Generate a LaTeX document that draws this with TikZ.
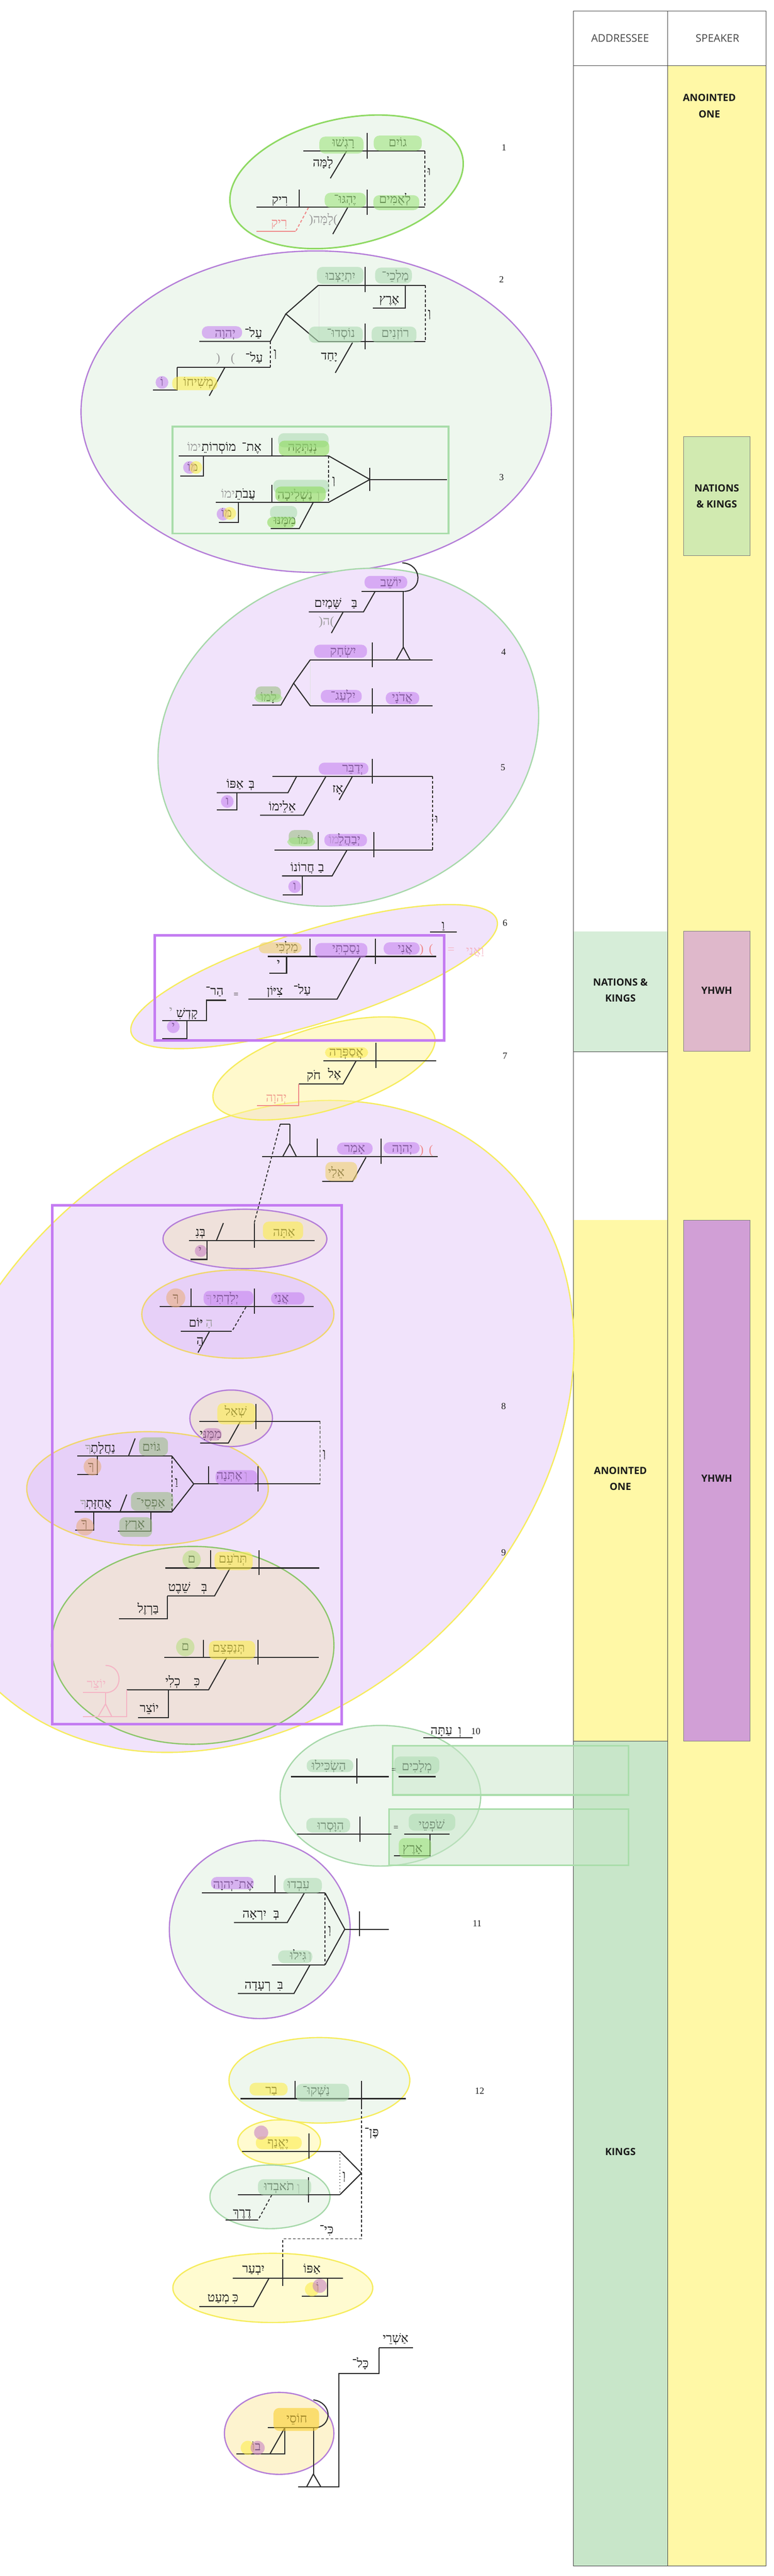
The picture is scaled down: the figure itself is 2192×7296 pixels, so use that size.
\documentclass[tikz,border=0pt]{standalone}
\usepackage{fontspec}
\TeXXeTstate=1
\newfontfamily\hebfont[Script=Hebrew]{Liberation Serif}
\newfontfamily\numfont{Liberation Serif}
\newfontfamily\osans{Open Sans}
\newcommand{\hb}[1]{\beginR#1\endR}
\newcommand{\hf}{\hebfont\fontsize{10pt}{12pt}\selectfont}
\definecolor{lc}{HTML}{2A2A2A}
\definecolor{tl}{HTML}{444444}
\definecolor{tx}{HTML}{1A1A1A}
\definecolor{gr}{HTML}{9A9A9A}
\definecolor{redl}{HTML}{F08A8A}
\definecolor{pinkl}{HTML}{F4B5C5}
\definecolor{sall}{HTML}{F0A090}
\definecolor{cyel}{HTML}{FFF8A6}
\definecolor{cnk}{HTML}{D6EDD8}
\definecolor{ckg}{HTML}{C8E6C9}
\definecolor{cnks}{HTML}{D1EAB0}
\definecolor{cyh1}{HTML}{DFB8CB}
\definecolor{cyh2}{HTML}{D19FD6}
\definecolor{gS}{HTML}{8ED962}
\definecolor{gS2}{HTML}{8CC66A}
\definecolor{pS}{HTML}{B47DD8}
\definecolor{lgS}{HTML}{A6D8A9}
\definecolor{yS}{HTML}{F6EC5C}
\definecolor{goS}{HTML}{F0D66C}
\definecolor{fG}{HTML}{EEF7EE}
\definecolor{fP}{HTML}{F1E3FB}
\definecolor{fP2}{HTML}{E7D0F8}
\definecolor{fT}{HTML}{EFE1DB}
\definecolor{fY}{HTML}{FFFBD0}
\definecolor{fY2}{HTML}{FDF3CF}
\definecolor{fYt}{HTML}{FFF59A}
\definecolor{pG}{HTML}{9EE37D}
\definecolor{pLG}{HTML}{B0DCB4}
\definecolor{pBG}{HTML}{8FDB5E}
\definecolor{pP}{HTML}{C784F0}
\definecolor{pY}{HTML}{FDED4E}
\definecolor{pT}{HTML}{F0D26E}
\definecolor{pGG}{HTML}{9CBF85}
\definecolor{pPk}{HTML}{C884C4}
\definecolor{pSal}{HTML}{EAAF80}
\definecolor{pGold}{HTML}{FACF30}
\definecolor{pGc}{HTML}{BADF85}
\definecolor{rectP}{HTML}{C47CF2}
\definecolor{rectG}{HTML}{A9DDAA}
\begin{document}
\begin{tikzpicture}[x=0.01cm,y=-0.01cm,
  ln/.style={draw=lc, line width=0.85pt},
  dln/.style={draw=lc, line width=0.75pt, dash pattern=on 2.2pt off 1.6pt},
  rln/.style={draw=redl, line width=0.85pt},
  pln/.style={draw=pinkl, line width=0.85pt},
  fln/.style={draw=black!12, line width=0.5pt},
  hw/.style={font=\hf, inner sep=0pt, anchor=base, yshift=-0.1cm, text=tx},
  hg/.style={hw, text=gr},
  hr/.style={hw, text=redl},
  hpk/.style={hw, text=pinkl},
  hsal/.style={hw, text=sall},
  heq/.style={hw, font=\numfont\fontsize{7pt}{8pt}\selectfont},
  vn/.style={font=\numfont\fontsize{7.5pt}{9pt}\selectfont, inner sep=0pt, text=tx},
  hdr/.style={font=\osans\fontsize{8.5pt}{10pt}\selectfont, text=tl, inner sep=0pt},
  lab/.style={font=\osans\bfseries\fontsize{8pt}{13pt}\selectfont, align=center, text=tx, inner sep=0pt},
  ell/.style={line width=1pt},
  pill/.style={fill opacity=0.6, rounded corners=0.16cm},
  dot/.style={fill opacity=0.6}]
\useasboundingbox (0,0) rectangle (2192,7296);
\fill[white] (0,0) rectangle (2192,7296);
% ---------------- table
\fill[cyel] (1892,186) rectangle (2171,7268);
\fill[cnk] (1625,2638) rectangle (1892,2978);
\fill[cyel] (1625,3456) rectangle (1892,4931);
\fill[ckg] (1625,4931) rectangle (1892,7268);
\filldraw[fill=cnks, draw=tl!70, line width=0.4pt] (1937,1237) rectangle (2125,1573);
\filldraw[fill=cyh1, draw=tl!70, line width=0.4pt] (1937,2638) rectangle (2125,2978);
\filldraw[fill=cyh2, draw=tl!70, line width=0.4pt] (1937,3456) rectangle (2125,4931);
\draw[tl, line width=0.5pt] (1625,31) rectangle (2171,7268);
\draw[tl, line width=0.5pt] (1892,31) -- (1892,7268);
\draw[tl, line width=0.5pt] (1625,186) -- (2171,186);
\draw[tl, line width=0.3pt] (1625,2978) -- (1892,2978);
\draw[tl, line width=0.4pt] (1625,4931) -- (1892,4931);
\node[hdr] (hA) at (1757,108) {ADDRESSEE};
\node[hdr] (hS) at (2033,108) {SPEAKER};
\node[lab] (l1) at (2010,300) {ANOINTED\\ONE};
\node[lab] (l2) at (2031,1405) {NATIONS\\\& KINGS};
\node[lab] (l3) at (1758,2805) {NATIONS \&\\KINGS};
\node[lab] (l4) at (2031,2805) {YHWH};
\node[lab] (l5) at (1758,4188) {ANOINTED\\ONE};
\node[lab] (l6) at (2031,4188) {YHWH};
\node[lab] (l7) at (1758,6095) {KINGS};
% ---------------- ellipses
\filldraw[ell, fill=fG, draw=gS, line width=1.2pt, rotate around={12.4:(982,515)}] (982,515) ellipse [x radius=3.36cm, y radius=1.79cm];
\filldraw[ell, fill=fG, draw=pS] (896,1166) ellipse [x radius=6.66cm, y radius=4.55cm];
\filldraw[ell, fill=fP, draw=lgS, rotate around={23.4:(987,2088)}] (987,2088) ellipse [x radius=5.52cm, y radius=4.63cm];
\filldraw[ell, fill=fP, draw=yS, rotate around={17.2:(890,2766)}] (890,2766) ellipse [x radius=5.42cm, y radius=1.32cm];
\filldraw[ell, fill=fP, draw=yS, rotate around={45.1:(704,4040)}] (704,4040) ellipse [x radius=10.31cm, y radius=7.99cm];
\fill[fYt, fill opacity=0.5, rotate around={16.4:(918,3026)}] (918,3026) ellipse [x radius=3.26cm, y radius=1.18cm];
\draw[ell, draw=yS, rotate around={16.4:(918,3026)}] (918,3026) ellipse [x radius=3.26cm, y radius=1.18cm];
\filldraw[ell, fill=fT, draw=pS] (694,3509) ellipse [x radius=2.32cm, y radius=0.84cm];
\filldraw[ell, fill=fP2, draw=goS] (674,3722) ellipse [x radius=2.72cm, y radius=1.25cm];
\filldraw[ell, fill=fP2, draw=goS] (418,4216) ellipse [x radius=3.42cm, y radius=1.61cm];
\filldraw[ell, fill=fT, draw=pS] (655,4017) ellipse [x radius=1.17cm, y radius=0.80cm];
\filldraw[ell, fill=fT, draw=gS2] (546,4660) ellipse [x radius=4.00cm, y radius=2.80cm];
\filldraw[ell, fill=fG, draw=lgS] (1078,5086) ellipse [x radius=2.84cm, y radius=1.99cm];
\filldraw[ell, fill=fG, draw=pS] (736,5465) ellipse [x radius=2.56cm, y radius=2.52cm];
\filldraw[ell, fill=fG, draw=yS] (905,5892) ellipse [x radius=2.56cm, y radius=1.21cm];
\filldraw[ell, fill=fY, draw=yS] (791,6067) ellipse [x radius=1.17cm, y radius=0.63cm];
\filldraw[ell, fill=fG, draw=lgS] (765,6222) ellipse [x radius=1.70cm, y radius=0.90cm];
\filldraw[ell, fill=fY, draw=yS] (773,6480) ellipse [x radius=2.83cm, y radius=0.98cm];
\filldraw[ell, fill=fY2, draw=pS] (791,6892) ellipse [x radius=1.55cm, y radius=1.16cm];
% ---------------- rectangles
\draw[rectG, line width=1.4pt] (489,1208) rectangle (1271,1511);
\draw[rectP, line width=2pt] (438,2649) rectangle (1258,2947);
\draw[rectP, line width=2pt] (148,3414) rectangle (968,4883);
\filldraw[fill=ckg, fill opacity=0.5, draw=rectG, line width=1.4pt] (1113,4944) rectangle (1781,5084);
\filldraw[fill=ckg, fill opacity=0.5, draw=rectG, line width=1.4pt] (1102,5124) rectangle (1781,5283);
% ---------------- lines v1
\draw[ln] (860,428) -- (1204,428);
\draw[ln] (1040,377) -- (1040,449);
\draw[ln] (982,428) -- (936,505);
\draw[dln] (1204,428) -- (1204,587);
\draw[ln] (726,587) -- (1204,587);
\draw[ln] (1041,537) -- (1041,608);
\draw[ln] (848,537) -- (848,587);
\draw[ln] (985,588) -- (943,663);
\draw[rln, dash pattern=on 2.2pt off 1.6pt] (874,588) -- (838,655);
\draw[rln] (838,655) -- (726,655);
% v2
\draw[fln] (904,808) -- (904,967);
\draw[ln] (902,808) -- (1205,808);
\draw[ln] (1035,756) -- (1035,828);
\draw[ln] (1149,808) -- (1149,872) -- (1056,872);
\draw[dln] (1205,808) -- (1205,967);
\draw[ln] (902,967) -- (1205,967);
\draw[ln] (1035,917) -- (1035,990);
\draw[ln] (999,970) -- (950,1056);
\draw[ln] (902,808) -- (810,889) -- (902,967);
\draw[ln] (810,889) -- (766,967) -- (565,967);
\draw[dln] (766,967) -- (766,1041);
\draw[ln] (502,1041) -- (766,1041);
\draw[ln] (637,1041) -- (593,1121);
\draw[ln] (502,1041) -- (502,1105) -- (434,1105);
% v3
\draw[ln] (506,1291) -- (931,1291);
\draw[ln] (770,1241) -- (770,1291);
\draw[ln] (931,1291) -- (1048,1358) -- (931,1423);
\draw[ln] (1048,1358) -- (1266,1358);
\draw[ln] (1048,1325) -- (1048,1391);
\draw[ln] (577,1291) -- (577,1348) -- (510,1348);
\draw[dln] (931,1291) -- (931,1423);
\draw[ln] (612,1423) -- (931,1423);
\draw[ln] (771,1373) -- (771,1423);
\draw[ln] (676,1423) -- (676,1479) -- (620,1479);
\draw[ln] (887,1424) -- (848,1497) -- (767,1497);
% v4
\draw[ln] (1140,1594) .. controls (1198,1598) and (1198,1673) .. (1146,1675);
\draw[ln] (1025,1675) -- (1146,1675);
\draw[ln] (1063,1675) -- (1030,1733) -- (875,1733);
\draw[ln] (972,1734) -- (939,1793);
\draw[ln] (1143,1675) -- (1143,1833);
\draw[ln] (1123,1869) -- (1143,1833) -- (1162,1869);
\draw[fln] (879,1869) -- (879,1999);
\draw[ln] (879,1869) -- (1226,1869);
\draw[ln] (1055,1819) -- (1055,1890);
\draw[ln] (879,1869) -- (832,1935) -- (879,1999);
\draw[ln] (832,1935) -- (796,1997) -- (715,1997);
\draw[ln] (879,1999) -- (1226,1999);
\draw[ln] (1055,1950) -- (1055,2021);
% v5
\draw[ln] (772,2199) -- (1226,2199);
\draw[ln] (1055,2150) -- (1055,2220);
\draw[ln] (840,2200) -- (816,2245) -- (614,2245);
\draw[ln] (671,2245) -- (671,2294) -- (614,2294);
\draw[ln] (923,2200) -- (860,2309) -- (737,2309);
\draw[ln] (998,2200) -- (961,2266);
\draw[dln] (1226,2199) -- (1226,2407);
\draw[ln] (778,2407) -- (1226,2407);
\draw[ln] (1060,2356) -- (1060,2428);
\draw[ln] (902,2356) -- (902,2407);
\draw[ln] (983,2408) -- (941,2481) -- (799,2481);
\draw[ln] (857,2481) -- (857,2534) -- (801,2534);
% v6
\draw[ln] (1218,2639) -- (1295,2639);
\draw[ln] (759,2709) -- (1236,2709);
\draw[ln] (1064,2658) -- (1064,2730);
\draw[ln] (878,2658) -- (878,2709);
\draw[ln] (812,2709) -- (812,2756) -- (763,2756);
\draw[ln] (1021,2711) -- (955,2830) -- (704,2830);
\draw[ln] (641,2833) -- (585,2833) -- (585,2891) -- (460,2891);
\draw[ln] (530,2891) -- (530,2942) -- (460,2942);
% v7
\draw[ln] (917,3004) -- (1236,3004);
\draw[ln] (1065,2953) -- (1065,3025);
\draw[ln] (1009,3005) -- (972,3070) -- (847,3070);
\draw[rln] (847,3070) -- (847,3132) -- (728,3132);
\draw[ln] (742,3276) -- (1241,3276);
\draw[ln] (1080,3225) -- (1080,3297);
\draw[ln] (899,3225) -- (899,3276);
\draw[ln] (821,3184) -- (821,3239);
\draw[ln] (801,3276) -- (821,3239) -- (840,3276);
\draw[ln] (794,3184) -- (821,3184);
\draw[dln] (794,3184) -- (720,3465);
\draw[ln] (1037,3278) -- (999,3346) -- (913,3346);
% v8
\draw[ln] (536,3514) -- (892,3514);
\draw[ln] (721,3464) -- (721,3534);
\draw[ln] (633,3464) -- (613,3514);
\draw[ln] (587,3514) -- (587,3567) -- (540,3567);
\draw[ln] (453,3701) -- (888,3701);
\draw[ln] (721,3650) -- (721,3721);
\draw[ln] (541,3650) -- (541,3701);
\draw[dln] (697,3702) -- (657,3771);
\draw[ln] (512,3771) -- (657,3771);
\draw[ln] (593,3772) -- (561,3831);
\draw[ln] (565,4026) -- (907,4026);
\draw[ln] (725,3976) -- (725,4048);
\draw[dln] (907,4026) -- (907,4203);
\draw[ln] (681,4026) -- (647,4087) -- (567,4087);
\draw[ln] (219,4124) -- (487,4124);
\draw[ln] (383,4074) -- (364,4124);
\draw[ln] (276,4124) -- (276,4176) -- (219,4176);
\draw[dln] (487,4124) -- (487,4282);
\draw[ln] (487,4124) -- (549,4203) -- (487,4282);
\draw[ln] (549,4203) -- (908,4203);
\draw[ln] (731,4153) -- (731,4225);
\draw[ln] (591,4153) -- (591,4203);
\draw[ln] (211,4282) -- (487,4282);
\draw[ln] (359,4233) -- (340,4282);
\draw[ln] (266,4282) -- (266,4334) -- (213,4334);
\draw[ln] (428,4282) -- (428,4336) -- (334,4336);
% v9
\draw[ln] (468,4441) -- (905,4441);
\draw[ln] (734,4391) -- (734,4461);
\draw[ln] (597,4391) -- (597,4441);
\draw[ln] (651,4443) -- (608,4520) -- (474,4520);
\draw[ln] (474,4520) -- (474,4585) -- (337,4585);
\draw[ln] (466,4694) -- (903,4694);
\draw[ln] (731,4644) -- (731,4715);
\draw[ln] (577,4644) -- (577,4694);
\draw[ln] (642,4695) -- (591,4786) -- (359,4786);
\draw[ln] (477,4786) -- (477,4865) -- (391,4865);
\draw[pln] (235,4794) -- (299,4794);
\draw[pln] (299,4717) .. controls (350,4717) and (350,4794) .. (299,4794);
\draw[pln] (299,4794) -- (299,4826);
\draw[pln] (278,4862) -- (299,4826) -- (317,4862);
\draw[pln] (235,4862) -- (359,4862) -- (359,4786);
% v10
\draw[ln] (1199,4922) -- (1340,4922);
\draw[ln] (825,5032) -- (1102,5032);
\draw[ln] (1011,4980) -- (1011,5052);
\draw[ln] (1130,5032) -- (1234,5032);
\draw[ln] (842,5195) -- (1109,5195);
\draw[ln] (1020,5145) -- (1020,5216);
\draw[ln] (1145,5195) -- (1274,5195);
\draw[ln] (1219,5195) -- (1219,5256) -- (1117,5256);
% v11
\draw[ln] (572,5361) -- (921,5361);
\draw[ln] (779,5311) -- (779,5361);
\draw[ln] (862,5362) -- (814,5445) -- (663,5445);
\draw[dln] (921,5361) -- (921,5565);
\draw[ln] (921,5361) -- (977,5464) -- (921,5565);
\draw[ln] (977,5464) -- (1102,5464);
\draw[ln] (1018,5413) -- (1018,5484);
\draw[ln] (770,5565) -- (921,5565);
\draw[ln] (878,5566) -- (833,5646) -- (674,5646);
% v12
\draw[ln] (681,5944) -- (1150,5944);
\draw[ln] (1024,5894) -- (1024,5966);
\draw[ln] (836,5894) -- (836,5944);
\draw[dln] (1024,5966) -- (1024,6341) -- (801,6341) -- (801,6398);
\draw[ln] (686,6093) -- (963,6093);
\draw[ln] (876,6043) -- (876,6114);
\draw[ln] (963,6093) -- (1024,6155) -- (963,6216);
\draw[draw=lc, line width=0.5pt, dotted] (963,6093) -- (963,6216);
\draw[ln] (674,6216) -- (963,6216);
\draw[ln] (874,6166) -- (874,6238);
\draw[dln] (770,6217) -- (731,6288);
\draw[ln] (639,6288) -- (731,6288);
\draw[ln] (660,6452) -- (972,6452);
\draw[ln] (801,6398) -- (801,6474);
\draw[ln] (928,6452) -- (928,6503) -- (855,6503);
\draw[ln] (762,6453) -- (718,6533) -- (565,6533);
% final
\draw[ln] (1074,6649) -- (1170,6649);
\draw[ln] (1074,6649) -- (1074,6722) -- (960,6722) -- (960,7043) -- (845,7043);
\draw[ln] (888,6876) -- (888,7007);
\draw[ln] (869,7043) -- (888,7007) -- (909,7043);
\draw[ln] (759,6876) -- (896,6876);
\draw[ln] (888,6797) .. controls (942,6805) and (942,6870) .. (896,6876);
\draw[ln] (807,6876) -- (765,6950);
\draw[ln] (807,6876) -- (807,6950) -- (670,6950);
% ---------------- texts v1
\node[hw] (t1) at (1127,405) {\hb{גוֹיִם}};
\node[hw] (t2) at (973,405) {\hb{רָגְשׁוּ}};
\node[hw] (t3) at (915,462) {\hb{לָמָּה}};
\node[hw] (t4) at (1216,487) {\hb{וּ}};
\node[hw] (t5) at (1119,565) {\hb{לְאֻמִּים}};
\node[hw] (t6) at (978,565) {\hb{יֶהְגּוּ־}};
\node[hw] (t7) at (793,567) {\hb{רִיק}};
\node[hg] (t8) at (916,623) {(\hb{לָמָּה})};
\node[hr] (t9) at (791,633) {\hb{רִיק}};
\node[vn] (n1) at (1428,418) {1};
% v2
\node[hw] (t10) at (1120,783) {\hb{מַלְכֵי־}};
\node[hw] (t11) at (965,783) {\hb{יִתְיַצְּבוּ}};
\node[hw] (t12) at (1103,848) {\hb{אֶרֶץ}};
\node[hw] (t13) at (1217,888) {\hb{וְ}};
\node[hw] (t14) at (1120,945) {\hb{רוֹזְנִים}};
\node[hw] (t15) at (966,945) {\hb{נוֹסְדוּ־}};
\node[hw] (t16) at (933,1009) {\hb{יָחַד}};
\node[hw] (t17) at (718,945) {\hb{עַל־}};
\node[hw] (t18) at (638,945) {\hb{יְהוָה}};
\node[hw] (t19) at (780,1000) {\hb{וְ}};
\node[hw] (t20) at (720,1015) {\hb{עַל־}};
\node[hg] (t21) at (639,1015) {(\hspace{0.3cm})};
\node[hw] (t22) at (562,1083) {\hb{מְשִׁיחוֹ}};
\node[hw] (t23) at (459,1083) {\hb{וֹ}};
\node[vn] (n2) at (1421,792) {2};
% v3
\node[hw] (t24) at (857,1268) {\hb{נְנַתְּקָה}};
\node[hw] (t25) at (713,1268) {\hb{אֶת־}};
\node[hw] (t26) at (620,1268) {\hb{מוֹסְרוֹתֵ}};
\node[hg] (t27) at (550,1268) {\hb{ימוֹ}};
\node[hw] (t28) at (546,1324) {\hb{מוֹ}};
\node[hw] (t29) at (946,1361) {\hb{וְ}};
\node[hw] (t30) at (836,1403) {\hb{נַשְׁלִיכָה}};
\node[hg] (t31) at (902,1403) {\hb{וְ}};
\node[hw] (t32) at (695,1400) {\hb{עֲבֹתֵ}};
\node[hg] (t33) at (646,1400) {\hb{ימוֹ}};
\node[hw] (t34) at (642,1455) {\hb{מוֹ}};
\node[hw] (t35) at (807,1475) {\hb{מִמֶּנּוּ}};
\node[vn] (n3) at (1421,1352) {3};
% v4
\node[hw] (t36) at (1108,1651) {\hb{יוֹשֵׁב}};
\node[hw] (t37) at (1004,1710) {\hb{בַּ}};
\node[hw] (t38) at (929,1710) {\hb{שָּׁמַיִם}};
\node[hg] (t39) at (925,1761) {(\hb{ה})};
\node[hw] (t40) at (972,1846) {\hb{יִשְׂחָק}};
\node[hw] (t41) at (761,1976) {\hb{לָמוֹ}};
\node[hw] (t42) at (1140,1976) {\hb{אֲדֹנָי}};
\node[hw] (t43) at (972,1973) {\hb{יִלְעַג־}};
\node[vn] (n4) at (1427,1847) {4};
% v5
\node[hw] (t44) at (1000,2177) {\hb{יְדַבֵּר}};
\node[hw] (t45) at (713,2222) {\hb{בְּ}};
\node[hw] (t46) at (666,2222) {\hb{אַפּוֹ}};
\node[hw] (t47) at (644,2270) {\hb{ו}};
\node[hw] (t48) at (800,2286) {\hb{אֵלֵימוֹ}};
\node[hw] (t49) at (957,2235) {\hb{אָז}};
\node[hw] (t50) at (1237,2321) {\hb{וּ}};
\node[hw] (t51) at (990,2379) {\hb{יְבַהֲלֵ}};
\node[hg] (t52) at (946,2379) {\hb{מוֹ}};
\node[hw] (t53) at (858,2381) {\hb{מוֹ}};
\node[hw] (t54) at (910,2458) {\hb{בַ}};
\node[hw] (t55) at (857,2458) {\hb{חֲרוֹנוֹ}};
\node[hw] (t56) at (835,2511) {\hb{ו}};
\node[vn] (n5) at (1425,2173) {5};
% v6
\node[hw] (t57) at (1256,2622) {\hb{וַ}};
\node[hw] (t58) at (1148,2687) {\hb{אֲנִי}};
\node[hr] (t59) at (1208,2689) {(\hspace{0.15cm})};
\node[hpk] (t60) at (1278,2690) {=};
\node[hpk] (t61) at (1346,2694) {\hb{וַאֲנִי}};
\node[hw] (t62) at (981,2688) {\hb{נָסַכְתִּי}};
\node[hw] (t63) at (813,2685) {\hb{מַלְכִּי}};
\node[hw] (t64) at (789,2730) {\hb{י}};
\node[hw] (t65) at (856,2806) {\hb{עַל־}};
\node[hw] (t66) at (779,2809) {\hb{צִיּוֹן}};
\node[heq] (t67) at (669,2814) {=};
\node[hw] (t68) at (608,2809) {\hb{הַר־}};
\node[hw] (t69) at (530,2871) {\hb{קָדְשִׁ}};
\node[hg] (t70) at (484,2864) {\hb{י}};
\node[hw] (t71) at (491,2908) {\hb{י}};
\node[vn] (n6) at (1431,2615) {6};
% v7
\node[hw] (t72) at (981,2981) {\hb{אֲסַפְּרָה}};
\node[hw] (t73) at (948,3043) {\hb{אֶל}};
\node[hw] (t74) at (889,3047) {\hb{חֹק}};
\node[hsal] (t75) at (783,3110) {\hb{יְהוָה}};
\node[hw] (t76) at (1140,3253) {\hb{יְהוָה}};
\node[hr] (t77) at (1208,3258) {(\hspace{0.15cm})};
\node[hw] (t78) at (1005,3253) {\hb{אָמַר}};
\node[hw] (t79) at (953,3322) {\hb{אֵלַי}};
\node[vn] (n7) at (1431,2991) {7};
% v8
\node[hw] (t80) at (805,3491) {\hb{אַתָּה}};
\node[hw] (t81) at (568,3491) {\hb{בְּנִ}};
\node[hw] (t82) at (567,3543) {\hb{י}};
\node[hw] (t83) at (798,3678) {\hb{אֲנִי}};
\node[hw] (t84) at (640,3678) {\hb{יְלִדְתִּי}};
\node[hg] (t85) at (592,3678) {\hb{ךָ}};
\node[hw] (t86) at (498,3676) {\hb{ךָ}};
\node[hg] (t87) at (593,3748) {\hb{הַ}};
\node[hw] (t88) at (555,3748) {\hb{יּוֹם}};
\node[hw] (t89) at (567,3798) {\hb{הַ}};
\node[hw] (t90) at (668,3999) {\hb{שְׁאַל}};
\node[hw] (t91) at (597,4064) {\hb{מִמֶּנִּי}};
\node[hw] (t92) at (919,4117) {\hb{וְ}};
\node[hw] (t93) at (429,4100) {\hb{גּוֹיִם}};
\node[hw] (t94) at (292,4102) {\hb{נַחֲלָתֶ}};
\node[hg] (t95) at (250,4102) {\hb{ךָ}};
\node[hw] (t96) at (258,4154) {\hb{ךָ}};
\node[hw] (t97) at (500,4198) {\hb{וַ}};
\node[hw] (t98) at (650,4180) {\hb{אֶתְּנָה}};
\node[hg] (t99) at (697,4180) {\hb{וְ}};
\node[hw] (t100) at (427,4258) {\hb{אַפְסֵי־}};
\node[hw] (t101) at (280,4259) {\hb{אֲחֻזָּתְ}};
\node[hg] (t102) at (236,4259) {\hb{ךָ}};
\node[hw] (t103) at (239,4316) {\hb{ךָ}};
\node[hw] (t104) at (382,4317) {\hb{אָרֶץ}};
\node[vn] (n8) at (1427,3983) {8};
% v9
\node[hw] (t105) at (660,4417) {\hb{תְּרֹעֵם}};
\node[hw] (t106) at (543,4417) {\hb{ם}};
\node[hw] (t107) at (579,4497) {\hb{בְּ}};
\node[hw] (t108) at (508,4497) {\hb{שֵׁבֶט}};
\node[hw] (t109) at (420,4558) {\hb{בַּרְזֶל}};
\node[hw] (t110) at (648,4669) {\hb{תְּנַפְּצֵם}};
\node[hw] (t111) at (525,4665) {\hb{ם}};
\node[hw] (t112) at (558,4764) {\hb{כִּ}};
\node[hw] (t113) at (490,4764) {\hb{כְלִי}};
\node[hw] (t114) at (423,4839) {\hb{יוֹצֵר}};
\node[hpk] (t115) at (273,4771) {\hb{יוֹצֵר}};
\node[vn] (n9) at (1427,4397) {9};
% v10
\node[hw] (t116) at (1251,4903) {\hb{עַתָּה}};
\node[hw] (t117) at (1303,4903) {\hb{וְ}};
\node[vn] (n10) at (1348,4903) {10};
\node[hw] (t118) at (932,5003) {\hb{הַשְׂכִּילוּ}};
\node[heq] (t119) at (1116,5011) {=};
\node[hw] (t120) at (1181,5005) {\hb{מְלָכִים}};
\node[hw] (t121) at (937,5172) {\hb{הִוָּסְרוּ}};
\node[heq] (t122) at (1122,5174) {=};
\node[hw] (t123) at (1223,5170) {\hb{שֹׁפְטֵי}};
\node[hw] (t124) at (1169,5236) {\hb{אָרֶץ}};
% v11
\node[hw] (t125) at (846,5339) {\hb{עִבְדוּ}};
\node[hw] (t126) at (691,5339) {\hb{אֶת־}};
\node[hw] (t127) at (633,5339) {\hb{יְהוָה}};
\node[hw] (t128) at (783,5422) {\hb{בְּ}};
\node[hw] (t129) at (721,5422) {\hb{יִרְאָה}};
\node[hw] (t130) at (934,5466) {\hb{וְ}};
\node[hw] (t131) at (845,5540) {\hb{גִּילוּ}};
\node[hg] (t132) at (878,5540) {\hb{וְ}};
\node[hw] (t133) at (794,5623) {\hb{בִּ}};
\node[hw] (t134) at (730,5623) {\hb{רְעָדָה}};
\node[vn] (n11) at (1352,5448) {11};
% v12
\node[hw] (t135) at (896,5922) {\hb{נַשְּׁקוּ־}};
\node[hw] (t136) at (769,5921) {\hb{בַר}};
\node[hw] (t137) at (1053,6040) {\hb{פֶּן־}};
\node[hw] (t138) at (788,6070) {\hb{יֶאֱנַף}};
\node[hw] (t139) at (975,6162) {\hb{וְ}};
\node[hw] (t140) at (791,6194) {\hb{תֹאבְדוּ}};
\node[hg] (t141) at (846,6196) {\hb{וְ}};
\node[hw] (t142) at (686,6268) {\hb{דֶרֶךְ}};
\node[hw] (t143) at (925,6316) {\hb{כִּי־}};
\node[hw] (t144) at (884,6427) {\hb{אַפּוֹ}};
\node[hw] (t145) at (718,6427) {\hb{יִבְעַר}};
\node[hw] (t146) at (900,6479) {\hb{וֹ}};
\node[hw] (t147) at (667,6509) {\hb{כִּ}};
\node[hw] (t148) at (619,6509) {\hb{מְעַט}};
\node[vn] (n12) at (1359,5922) {12};
\node[hw] (t149) at (1121,6624) {\hb{אַשְׁרֵי}};
\node[hw] (t150) at (1021,6695) {\hb{כָּל־}};
\node[hw] (t151) at (841,6852) {\hb{חוֹסֵי}};
\node[hw] (t152) at (726,6931) {\hb{בוֹ}};
% ---------------- pills (over text, translucent)
\fill[pill, fill=pG] (1059,384) rectangle (1195,427);
\fill[pill, fill=pG] (905,387) rectangle (1030,435);
\fill[pill, fill=pG] (1058,553) rectangle (1188,595);
\fill[pill, fill=pG] (920,546) rectangle (1037,588);
\fill[pill, fill=pLG] (1063,758) rectangle (1167,803);
\fill[pill, fill=pLG] (898,756) rectangle (1030,804);
\fill[pill, fill=pLG] (1053,925) rectangle (1180,971);
\fill[pill, fill=pLG] (875,925) rectangle (1028,971);
\fill[pill, fill=pP] (572,924) rectangle (686,959);
\fill[pill, fill=pY] (488,1067) rectangle (616,1105);
\fill[dot, fill=pP] (459,1083) circle (0.18cm);
\fill[pill, fill=pLG] (788,1227) rectangle (931,1267);
\fill[pill, fill=pBG] (790,1248) rectangle (933,1291);
\fill[pill, fill=pLG] (774,1359) rectangle (933,1397);
\fill[pill, fill=pBG] (780,1378) rectangle (923,1421);
\fill[pill, fill=pLG] (765,1433) rectangle (842,1470);
\fill[pill, fill=pBG] (757,1464) rectangle (838,1495);
\fill[dot, fill=pP] (537,1324) circle (0.18cm);
\fill[dot, fill=pY] (555,1324) circle (0.18cm);
\fill[dot, fill=pP] (632,1456) circle (0.18cm);
\fill[dot, fill=pY] (651,1454) circle (0.18cm);
\fill[pill, fill=pP] (1033,1631) rectangle (1154,1667);
\fill[pill, fill=pP] (890,1826) rectangle (1040,1863);
\fill[pill, fill=pGG] (724,1944) rectangle (796,1983);
\fill[pill, fill=pG] (721,1965) rectangle (800,1989);
\fill[pill, fill=pP] (1093,1960) rectangle (1188,1995);
\fill[pill, fill=pP] (909,1954) rectangle (1025,1990);
\fill[pill, fill=pP] (903,2160) rectangle (1044,2194);
\fill[dot, fill=pP] (644,2270) circle (0.18cm);
\fill[pill, fill=pP] (919,2362) rectangle (1040,2397);
\fill[pill, fill=pGG] (818,2351) rectangle (887,2391);
\fill[pill, fill=pG] (814,2372) rectangle (893,2397);
\fill[dot, fill=pP] (835,2511) circle (0.18cm);
\fill[pill, fill=pP] (1087,2669) rectangle (1189,2704);
\fill[pill, fill=pP] (893,2671) rectangle (1041,2713);
\fill[pill, fill=pT] (733,2669) rectangle (855,2700);
\fill[dot, fill=pP] (491,2908) circle (0.18cm);
\fill[pill, fill=pY] (921,2966) rectangle (1043,2996);
\fill[pill, fill=pP] (1087,3235) rectangle (1189,3268);
\fill[pill, fill=pP] (955,3236) rectangle (1056,3270);
\fill[pill, fill=pT] (922,3291) rectangle (1012,3345);
\fill[pill, fill=pY] (745,3460) rectangle (859,3511);
\fill[dot, fill=pPk] (569,3543) circle (0.17cm);
\fill[pill, fill=pP] (768,3660) rectangle (863,3695);
\fill[pill, fill=pP] (577,3656) rectangle (718,3698);
\fill[dot, fill=pSal] (498,3676) circle (0.27cm);
\fill[pill, fill=pY] (616,3974) rectangle (724,4034);
\fill[pill, fill=pPk] (574,4045) rectangle (628,4080);
\fill[pill, fill=pGG] (394,4071) rectangle (476,4123);
\fill[pill, fill=pP] (611,4164) rectangle (729,4205);
\fill[pill, fill=pGG] (371,4226) rectangle (491,4279);
\fill[pill, fill=pGG] (338,4297) rectangle (431,4353);
\fill[dot, fill=pSal] (262,4154) circle (0.25cm);
\fill[dot, fill=pSal] (241,4324) circle (0.25cm);
\fill[pill, fill=pY] (608,4395) rectangle (716,4447);
\fill[dot, fill=pGc] (543,4417) circle (0.26cm);
\fill[pill, fill=pY] (592,4647) rectangle (723,4700);
\fill[dot, fill=pGc] (525,4665) circle (0.26cm);
\fill[pill, fill=pLG] (869,4983) rectangle (1001,5019);
\fill[pill, fill=pLG] (1117,4975) rectangle (1245,5024);
\fill[pill, fill=pLG] (868,5149) rectangle (992,5190);
\fill[pill, fill=pLG] (1158,5137) rectangle (1290,5185);
\fill[pill, fill=pG] (1130,5206) rectangle (1222,5262);
\fill[pill, fill=pLG] (803,5319) rectangle (912,5362);
\fill[pill, fill=pP] (598,5316) rectangle (719,5351);
\fill[pill, fill=pLG] (788,5524) rectangle (885,5560);
\fill[pill, fill=pLG] (839,5902) rectangle (989,5952);
\fill[pill, fill=pY] (707,5899) rectangle (815,5935);
\fill[pill, fill=pY] (725,6051) rectangle (855,6087);
\fill[dot, fill=pPk] (740,6040) circle (0.20cm);
\fill[pill, fill=pLG] (731,6172) rectangle (882,6217);
\fill[dot, fill=pY] (884,6484) circle (0.20cm);
\fill[dot, fill=pPk] (906,6474) circle (0.20cm);
\fill[pill, fill=pGold] (775,6820) rectangle (904,6885);
\fill[dot, fill=pY] (702,6933) circle (0.20cm);
\fill[dot, fill=pPk] (730,6933) circle (0.20cm);
\end{tikzpicture}
\end{document}
